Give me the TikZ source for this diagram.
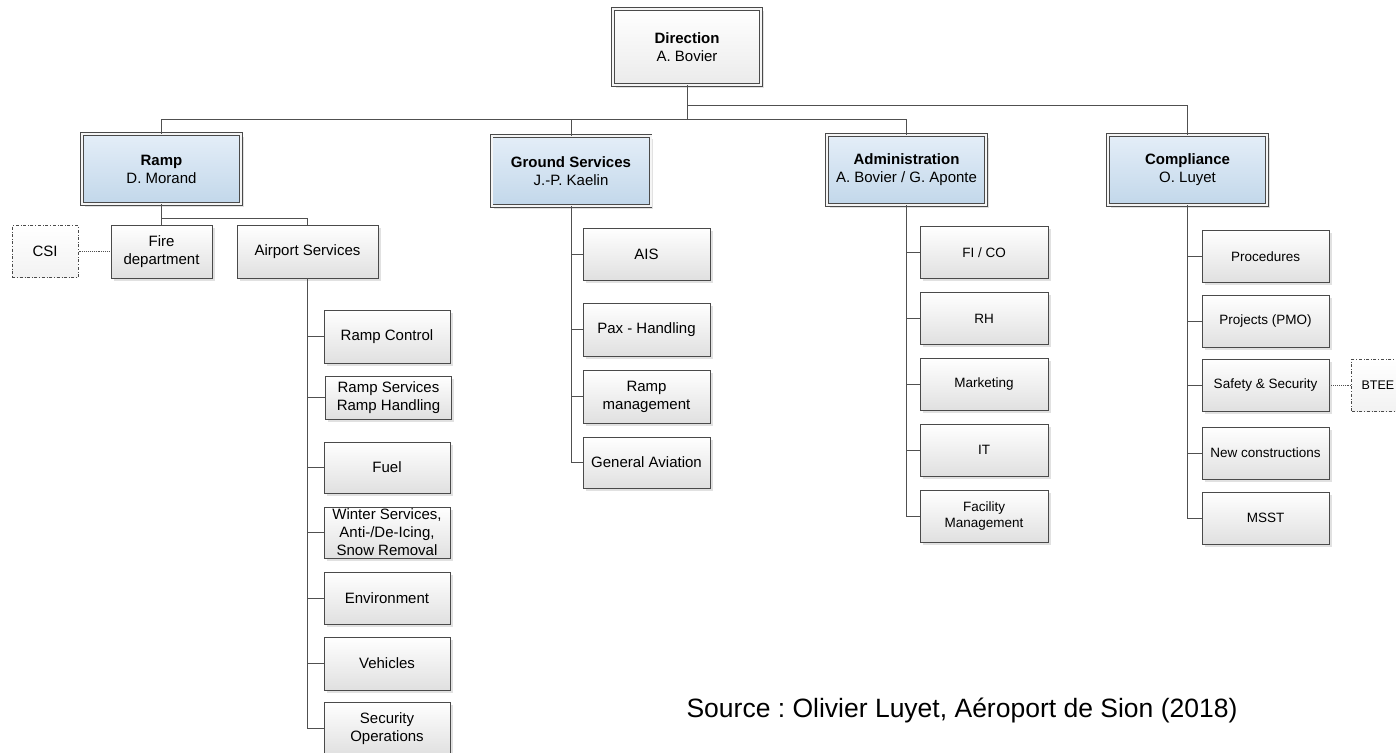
\documentclass[tikz,border=0pt]{standalone}
\usepackage{fontspec}
\setmainfont{Liberation Sans}
\usepackage{xcolor}
\usetikzlibrary{positioning, shadows}
\frenchspacing

\definecolor{boxline}{HTML}{4A4A4A}
\definecolor{wiregray}{HTML}{505050}
\definecolor{headtop}{HTML}{E4EEF8}
\definecolor{headbot}{HTML}{C2D7EA}
\definecolor{unitbot}{HTML}{E0E0E0}

\begin{document}
\begin{tikzpicture}[
    x=1pt, y=-1pt,
    font=\fontsize{15}{18}\selectfont,
    node distance=13pt,
    base/.style={draw=boxline, align=center, inner sep=1pt, text=black,
      drop shadow={shadow xshift=2.5pt, shadow yshift=-2.5pt, fill=gray!30, opacity=0.8}},
    head/.style={base, double=white!92!gray, double distance=2pt, line width=0.8pt,
      top color=headtop, bottom color=headbot, minimum width=159pt, minimum height=70pt},
    boss/.style={head, top color=white, bottom color=gray!16, minimum width=148pt, minimum height=76pt},
    unit/.style={base, line width=0.9pt, top color=white, bottom color=unitbot,
      minimum width=126pt, minimum height=52pt},
    small/.style={unit, font=\fontsize{13.5}{16}\selectfont},
    ext/.style={draw=boxline, dash dot, line width=0.8pt, top color=white, bottom color=gray!10,
      align=center, minimum height=52pt},
    wire/.style={draw=wiregray, line width=0.9pt},
    link/.style={draw=wiregray, densely dotted, line width=0.9pt},
  ]
  \useasboundingbox (0,0) rectangle (1396,752);
  \clip (0,0) rectangle (1396,752);

  % top level
  \node[boss] (dir) at (687,47) {\textbf{Direction}\\A. Bovier};
  \node[head] (ramp) at (161.5,169) {\textbf{Ramp}\\D. Morand};
  \node[head] (gs) at (571,171) {\textbf{Ground Services}\\J.-P. Kaelin};
  \node[head] (adm) at (906.5,170) {\textbf{Administration}\\A. Bovier / G. Aponte};
  \node[head] (comp) at (1187.5,170) {\textbf{Compliance}\\O. Luyet};

  % ramp
  \node[unit, minimum width=101pt, minimum height=53pt] (fire) at (161.5,251.5) {Fire\\department};
  \node[unit, minimum width=141pt, minimum height=53pt] (airport) at (307.5,251.5) {Airport Services};
  \node[ext, minimum width=66pt, left=32pt of fire] (csi) {CSI};

  \node[unit, minimum height=53pt] (rctl) at (387,336.5) {Ramp Control};
  \node[unit, minimum height=43pt] (rsvc) at (388.5,397.5) {Ramp Services\\Ramp Handling};
  \node[unit, minimum height=51pt] (fuel) at (387,467.5) {Fuel};
  \node[unit, minimum height=51pt] (winter) at (387,532.5) {Winter Services,\\Anti-/De-Icing,\\Snow Removal};
  \node[unit] (env) at (387,598) {Environment};
  \node[unit, minimum height=53pt] (veh) at (387,663.5) {Vehicles};
  \node[unit, minimum height=53pt] (secops) at (387,728.5) {Security\\Operations};

  % ground services
  \node[unit, minimum width=127pt] (ais) at (646.5,254) {AIS};
  \node[unit, minimum width=127pt, minimum height=53pt] (pax) at (646.5,329.5) {Pax - Handling};
  \node[unit, minimum width=127pt, minimum height=53pt] (rmgmt) at (646.5,396.5) {Ramp\\management};
  \node[unit, minimum width=127pt, minimum height=51pt] (ga) at (646.5,462.5) {General Aviation};

  % administration
  \node[small, minimum width=128pt] (fico) at (984,252.5) {FI / CO};
  \node[small, minimum width=128pt, below=of fico] (rh) {RH};
  \node[small, minimum width=128pt, below=of rh] (mkt) {Marketing};
  \node[small, minimum width=128pt, below=of mkt] (it) {IT};
  \node[small, minimum width=128pt, below=of it] (fm) {Facility\\Management};

  % compliance
  \node[small, minimum width=127pt] (proc) at (1265.5,256.5) {Procedures};
  \node[small, minimum width=127pt] (proj) at (1265.5,321.5) {Projects (PMO)};
  \node[small, minimum width=127pt] (safe) at (1265.5,385) {Safety \& Security};
  \node[small, minimum width=127pt] (newc) at (1265.5,453) {New constructions};
  \node[small, minimum width=127pt] (msst) at (1265.5,518) {MSST};
  \node[ext, minimum width=64pt, font=\fontsize{12.5}{15}\selectfont, right=22pt of safe] (btee) {BTEE\hspace*{12pt}};

  \node[font=\fontsize{26.5}{30}\selectfont] (src) at (962,710) {Source : Olivier Luyet, Aéroport de Sion (2018)};

  % connectors
  \coordinate (bus) at (687,119);
  \coordinate (busr) at (687,105);
  \coordinate (rampbus) at (161.5,218);
  \draw[wire] (dir.south) -- (bus);
  \draw[wire] (ramp.north) |- (adm.north |- bus) -- (adm.north);
  \draw[wire] (gs.north) -- (gs.north |- bus);
  \draw[wire] (busr) -| (comp.north);

  \draw[wire] (ramp.south) -- (fire.north);
  \draw[wire] (rampbus) -| (airport.north);
  \draw[link] (csi) -- (fire);

  \foreach \n in {rctl, rsvc, fuel, winter, env, veh, secops}
    \draw[wire] (airport.south) |- (\n.west);
  \foreach \n in {ais, pax, rmgmt, ga}
    \draw[wire] (gs.south) |- (\n.west);
  \foreach \n in {fico, rh, mkt, it, fm}
    \draw[wire] (adm.south) |- (\n.west);
  \foreach \n in {proc, proj, safe, newc, msst}
    \draw[wire] (comp.south) |- (\n.west);
  \draw[link] (safe) -- (btee);
\end{tikzpicture}
\end{document}
